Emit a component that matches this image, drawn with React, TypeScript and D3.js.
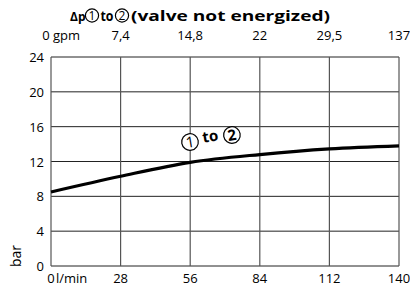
import * as d3 from "d3";

// flow in l/min (bottom axis) and the pressure drop
const flowLpm = [0, 28, 56, 84, 112, 140];
const pressureBar = [8.5, 10.3, 11.9, 12.8, 13.45, 13.8];

// bottom and top tick labels
const lpmTicks = [0, 28, 56, 84, 112, 140];
const gpmLabels = ["0", "7,4", "14,8", "22", "29,5", "137"];
const barTicks = [0, 4, 8, 12, 16, 20, 24];

const width = 410;
const height = 289;
const margin = { top: 57, right: 11, bottom: 23, left: 51 };
const font = "'Open Sans', 'DejaVu Sans', sans-serif";

function Circled({ x, y, n, r = 7, size = 12, bold = false }) {
  return (
    <g transform={`translate(${x},${y})`}>
      <circle r={r} fill="white" stroke="black" strokeWidth={1.2} />
      <text y={size * 0.36} textAnchor="middle" fontSize={size} fontWeight={bold ? "bold" : "normal"}>
        {n}
      </text>
    </g>
  );
}

export default function App() {
  const x = d3.scaleLinear().domain([0, 140]).range([margin.left, width - margin.right]);
  const y = d3.scaleLinear().domain([0, 24]).range([height - margin.bottom, margin.top]);

  const line = d3
    .line<number>()
    .x((_, i) => x(flowLpm[i]))
    .y((d) => y(d))
    .curve(d3.curveMonotoneX);

  return (
    <svg
      width={width}
      height={height}
      style={{ position: "absolute", left: 0, top: 0, background: "white" }}
      fontFamily={font}
    >
      {/* title */}
      <g fontWeight="bold" fontSize={15}>
        <text x={70} y={21} fontSize={12}>Δp</text>
        <Circled x={92} y={15.5} n="1" r={6.6} size={12} />
        <text x={100.5} y={21} textLength={13} lengthAdjust="spacingAndGlyphs">to</text>
        <Circled x={122} y={15.5} n="2" r={6.6} size={12} />
        <text x={131} y={21} textLength={199} lengthAdjust="spacingAndGlyphs">
          (valve not energized)
        </text>
      </g>

      {/* grid */}
      {barTicks.map((t) => (
        <line key={"h" + t} x1={x(0)} x2={x(140)} y1={y(t)} y2={y(t)} stroke="#222" strokeWidth={1} />
      ))}
      {lpmTicks.map((t) => (
        <line key={"v" + t} x1={x(t)} x2={x(t)} y1={y(0)} y2={y(24)} stroke="#555" strokeWidth={1.2} />
      ))}

      {/* y labels */}
      {barTicks.map((t) => (
        <text key={"yl" + t} x={x(0) - 7} y={y(t) + 5} textAnchor="end" fontSize={13}>
          {t}
        </text>
      ))}
      <text transform={`translate(21,256) rotate(-90)`} textAnchor="middle" fontSize={14}>
        bar
      </text>

      {/* bottom labels (l/min) */}
      {lpmTicks.map((t) => (
        <text key={"xb" + t} x={x(t)} y={283} textAnchor="middle" fontSize={13}>
          {t}
        </text>
      ))}
      <text x={x(0) + 5} y={283} fontSize={13}>l/min</text>

      {/* top labels (gpm) */}
      {lpmTicks.map((t, i) => (
        <text key={"xt" + t} x={i === 0 ? x(t) - 5 : x(t)} y={40} textAnchor="middle" fontSize={13}>
          {gpmLabels[i]}
        </text>
      ))}
      <text x={x(0) + 2} y={40} fontSize={13}>gpm</text>

      {/* curve */}
      <path d={line(pressureBar) ?? ""} fill="none" stroke="black" strokeWidth={3.2} />

      {/* curve annotation */}
      <g transform={`translate(190,142) rotate(-9.5)`}>
        <Circled x={0} y={0} n="1" r={8.3} size={15} />
        <text x={13} y={3} fontWeight="bold" fontSize={15}>to</text>
        <Circled x={42.5} y={0} n="2" r={8.3} size={15} bold />
      </g>
    </svg>
  );
}
